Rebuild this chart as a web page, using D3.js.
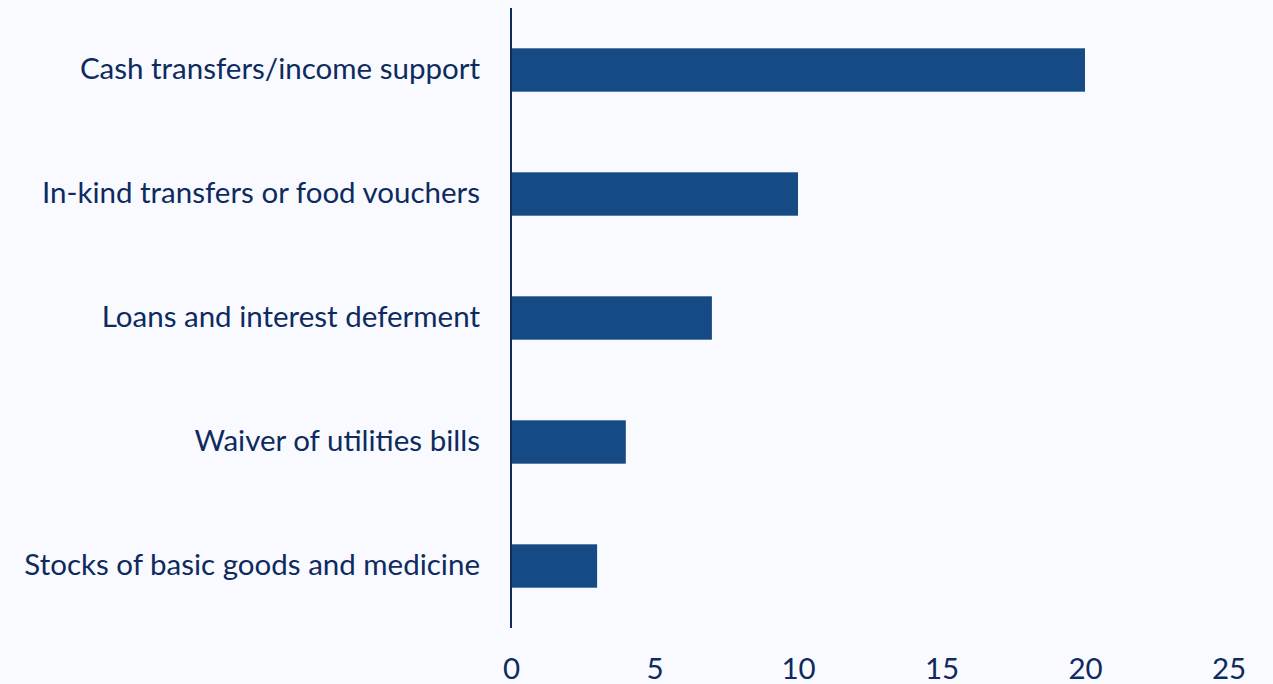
<!DOCTYPE html>
<html>
<head>
<meta charset="utf-8">
<script src="https://cdn.jsdelivr.net/npm/d3@7"></script>
<style>
  html, body { margin: 0; padding: 0; background: #f8faff; }
  svg { display: block; }
  text { font-family: Lato, "Open Sans", sans-serif; fill: #0e2a5e; }
</style>
</head>
<body>
<svg id="chart" width="1273" height="684"></svg>
<script>
// Support measures, number of countries
const categories = [
  "Cash transfers/income support",
  "In-kind transfers or food vouchers",
  "Loans and interest deferment",
  "Waiver of utilities bills",
  "Stocks of basic goods and medicine"
];
const values = [20, 10, 7, 4, 3];
const tickValues = [0, 5, 10, 15, 20, 25];

const svg = d3.select("#chart");
const W = 1273, H = 684;
const margin = { left: 511, right: 44.5, top: 8, bottom: 56 };

const x = d3.scaleLinear()
  .domain([0, 25])
  .range([margin.left, W - margin.right]);

const y = d3.scaleBand()
  .domain(categories)
  .range([margin.top, H - margin.bottom])
  .paddingInner(0.65)
  .paddingOuter(0.325);

// Bars
svg.append("g")
  .selectAll("rect")
  .data(categories)
  .join("rect")
  .attr("x", x(0))
  .attr("y", d => y(d))
  .attr("width", (d, i) => x(values[i]) - x(0))
  .attr("height", y.bandwidth())
  .attr("fill", "#164a84");

// Category labels
svg.append("g")
  .selectAll("text")
  .data(categories)
  .join("text")
  .attr("x", x(0) - 31)
  .attr("y", d => y(d) + y.bandwidth() / 2)
  .attr("dy", "0.31em")
  .attr("text-anchor", "end")
  .style("font-size", "29.5px")
  .text(d => d);

// Vertical axis line
svg.append("line")
  .attr("x1", x(0)).attr("x2", x(0))
  .attr("y1", margin.top).attr("y2", H - margin.bottom)
  .attr("stroke", "#0e2a5e")
  .attr("stroke-width", 2);

// X axis tick labels
const xAxis = d3.axisBottom(x)
  .tickValues(tickValues)
  .tickSize(0)
  .tickPadding(0);

const gx = svg.append("g")
  .attr("transform", `translate(0,679)`)
  .call(xAxis);
gx.select(".domain").remove();
gx.selectAll("text")
  .attr("y", 0)
  .attr("dy", "0")
  .style("font-size", "29.5px")
  .style("font-family", "Lato, 'Open Sans', sans-serif")
  .attr("fill", "#0e2a5e");
</script>
</body>
</html>
